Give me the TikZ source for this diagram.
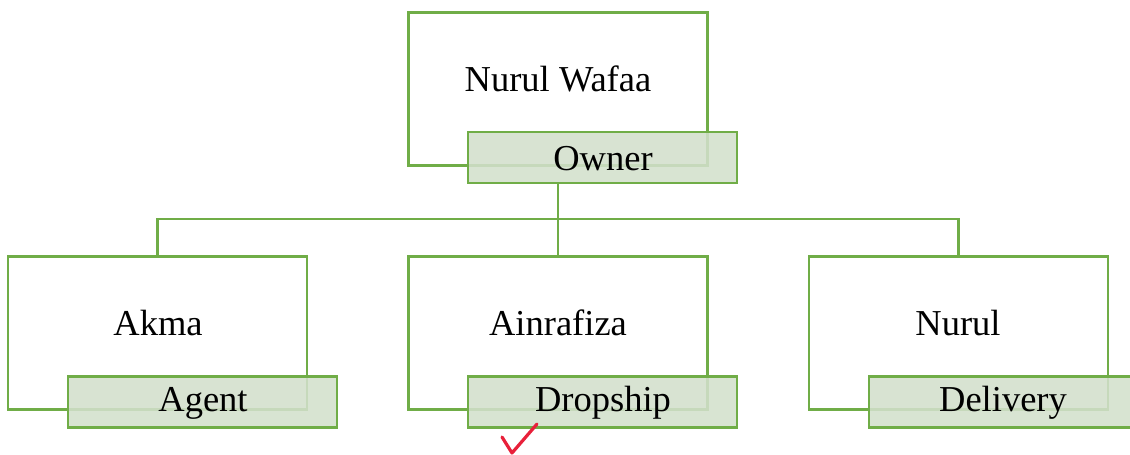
\documentclass[tikz,border=0pt]{standalone}
\usepackage{fontspec}
\setmainfont{Liberation Serif}
\definecolor{boxgreen}{RGB}{112,173,71}
\definecolor{labfill}{RGB}{211,224,204}
\definecolor{checkred}{RGB}{232,32,58}
\begin{document}
\begin{tikzpicture}[x=1pt,y=-1pt,
  box/.style={draw=boxgreen,line width=2.8pt,fill=white,minimum width=299pt,minimum height=153pt,inner sep=0pt},
  lab/.style={draw=boxgreen,line width=2.8pt,fill=labfill,fill opacity=0.88,text opacity=1,minimum width=269pt,minimum height=51pt,inner sep=0pt},
  txtlbl/.style={font=\fontsize{36.5}{40}\selectfont,inner sep=0pt},
  conn/.style={draw=boxgreen,line width=2.8pt}]
\useasboundingbox (0,0) rectangle (1130,455);
\clip (0,0) rectangle (1130,455);
% top
\node[box] (top) at (558,89) {};
\node[txtlbl] (topt) at (558,79) {Nurul Wafaa};
\node[lab] (topl) at (602.5,157.5) {};
\node[txtlbl] (toplt) at (603,159) {Owner};
% bottom boxes
\node[box] (b1) at (157.5,333) {};
\node[txtlbl] (b1t) at (158,323) {Akma};
\node[box] (b2) at (558,333) {};
\node[txtlbl] (b2t) at (558,323) {Ainrafiza};
\node[box] (b3) at (958.5,333) {};
\node[txtlbl] (b3t) at (958,323) {Nurul};
\node[lab] (l1) at (202.5,402) {};
\node[txtlbl] (l1t) at (203,403) {Agent};
\node[lab] (l2) at (602.5,402) {};
\node[txtlbl] (l2t) at (603,403) {Dropship};
\node[lab] (l3) at (1003.5,402) {};
\node[txtlbl] (l3t) at (1003,403) {Delivery};
% connectors
\coordinate (bus) at (558,219);
\draw[conn] (top.center |- topl.south) -- (bus);
\draw[conn] (bus) -| (b1.north);
\draw[conn] (bus) -- (b2.north);
\draw[conn] (bus) -| (b3.north);
% check mark
\coordinate (c1) at (502,437);
\coordinate (c2) at (512,453);
\coordinate (c3) at (537,424);
\draw[checkred,line width=3.2pt,line cap=round,line join=round] (c1) -- (c2) -- (c3);
\end{tikzpicture}
\end{document}
